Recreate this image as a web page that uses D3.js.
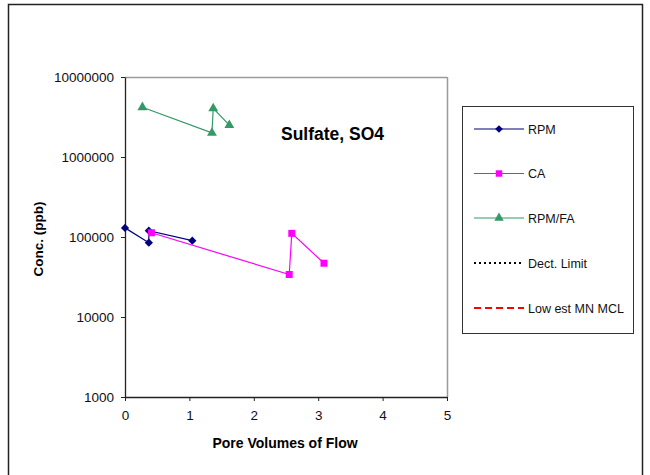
<!DOCTYPE html>
<html><head><meta charset="utf-8">
<script src="https://cdn.jsdelivr.net/npm/d3@7"></script>
<style>
body{margin:0;background:#fff;}
text{font-family:"Liberation Sans",Arial,sans-serif;}
</style></head>
<body><svg id="c" width="650" height="475"></svg>
<script>
// Data
const rpmX = [0, 0.37, 0.37, 1.045];
const rpmY = [130000, 85000, 120000, 90000];
const caX = [0.41, 2.55, 2.59, 3.09];
const caY = [113000, 34000, 111000, 47000];
const faX = [0.27, 1.35, 1.37, 1.62];
const faY = [4180000, 2000000, 4060000, 2500000];
const xTicks = [0, 1, 2, 3, 4, 5];
const yTicks = [1000, 10000, 100000, 1000000, 10000000];
const legendNames = ["RPM", "CA", "RPM/FA", "Dect. Limit", "Low est MN MCL"];

const svg = d3.select("#c");
// outer frame
svg.append("rect").attr("x", 8.5).attr("y", 4.5).attr("width", 634).attr("height", 480)
  .attr("fill", "#fff").attr("stroke", "#222").attr("stroke-width", 1.5);

const L = 125, R = 447, T = 77, B = 397;
const x = d3.scaleLinear().domain([0, 5]).range([L, R]);
const y = d3.scaleLog().domain([1000, 10000000]).range([B, T]);

// plot area frame (top and right gray)
svg.append("line").attr("x1", L).attr("x2", R).attr("y1", T + 0.5).attr("y2", T + 0.5).attr("stroke", "#9a9a9a").attr("stroke-width", 1.5);
svg.append("line").attr("x1", R + 0.5).attr("x2", R + 0.5).attr("y1", T).attr("y2", B).attr("stroke", "#9a9a9a").attr("stroke-width", 1.5);

// axes
const xAxis = d3.axisBottom(x).tickValues(xTicks).tickFormat(d3.format("d")).tickSizeInner(4).tickSizeOuter(0).tickPadding(9);
const yAxis = d3.axisLeft(y).tickValues(yTicks).tickFormat(d => String(d)).tickSizeInner(4).tickSizeOuter(0).tickPadding(7);
const gx = svg.append("g").attr("transform", `translate(0,${B})`).call(xAxis);
const gy = svg.append("g").attr("transform", `translate(${L},0)`).call(yAxis);
[gx, gy].forEach(g => {
  g.select(".domain").attr("stroke", "#222").attr("stroke-width", 1.3);
  g.selectAll(".tick line").attr("stroke", "#222");
  g.selectAll(".tick text").attr("fill", "#111").style("font-size", "13.5px").style("font-family", "'Liberation Sans',Arial,sans-serif");
});

// series
const series = [
  {name: legendNames[0], xs: rpmX, ys: rpmY, color: "#000080", sym: d3.symbolSquare, size: 34, rot: 45},
  {name: legendNames[1], xs: caX, ys: caY, color: "#FF00FF", sym: d3.symbolSquare, size: 49, rot: 0},
  {name: legendNames[2], xs: faX, ys: faY, color: "#339966", sym: d3.symbolTriangle, size: 42, rot: 0},
];
const line = d3.line().x(d => x(d[0])).y(d => y(d[1]));
series.forEach(s => {
  const pts = s.xs.map((v, i) => [v, s.ys[i]]);
  svg.append("path").attr("d", line(pts)).attr("fill", "none").attr("stroke", s.color).attr("stroke-width", 1.2);
  svg.selectAll(null).data(pts).enter().append("path")
    .attr("d", d3.symbol().type(s.sym).size(s.size))
    .attr("transform", d => `translate(${x(d[0])},${y(d[1])}) rotate(${s.rot})`)
    .attr("fill", s.color);
});

// title
svg.append("text").attr("x", 332.5).attr("y", 140).attr("text-anchor", "middle")
  .style("font-size", "17.5px").style("font-weight", "bold").text("Sulfate, SO4");

// axis labels
svg.append("text").attr("x", 285).attr("y", 448).attr("text-anchor", "middle")
  .style("font-size", "14px").style("font-weight", "bold").text("Pore Volumes of Flow");
svg.append("text").attr("transform", "translate(43,239) rotate(-90)").attr("text-anchor", "middle")
  .style("font-size", "13.5px").style("font-weight", "bold").text("Conc. (ppb)");

// legend
svg.append("rect").attr("x", 462.5).attr("y", 106.5).attr("width", 171).attr("height", 227)
  .attr("fill", "#fff").attr("stroke", "#333").attr("stroke-width", 1);
const legY = [129, 173.5, 218, 263, 308];
const legItems = [
  {color: "#000080", sym: d3.symbolSquare, size: 30, rot: 45},
  {color: "#FF00FF", sym: d3.symbolSquare, size: 42, rot: 0},
  {color: "#339966", sym: d3.symbolTriangle, size: 38, rot: 0},
  {color: "#000", dash: "2,3", sw: 1.8},
  {color: "#FF0000", dash: "7,4", sw: 2},
];
legItems.forEach((it, i) => {
  const yy = legY[i];
  svg.append("line").attr("x1", 474).attr("x2", 524).attr("y1", yy).attr("y2", yy)
    .attr("stroke", it.color).attr("stroke-width", it.sw || 1.2).attr("stroke-dasharray", it.dash || null);
  if (it.sym) svg.append("path").attr("d", d3.symbol().type(it.sym).size(it.size)).attr("transform", `translate(499,${yy}) rotate(${it.rot})`).attr("fill", it.color);
  svg.append("text").attr("x", 528).attr("y", yy + 4.5).style("font-size", "12.5px").attr("fill", "#111").text(legendNames[i]);
});
</script></body></html>
